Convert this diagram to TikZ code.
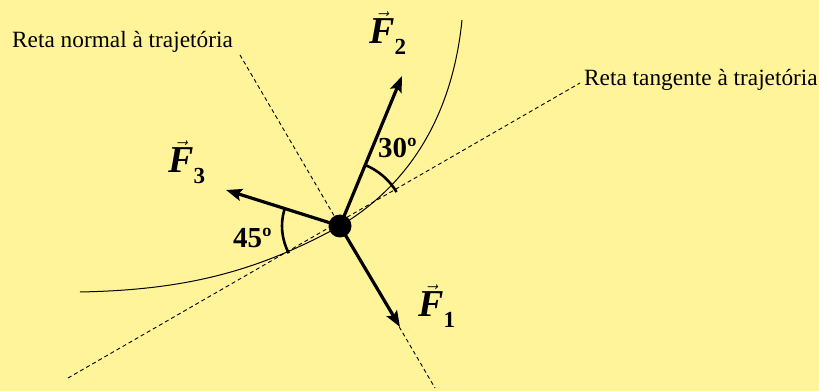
\documentclass[tikz,border=0pt]{standalone}
\usepackage{amsmath}
\usepackage{fontspec}
\setmainfont{Liberation Serif}
\usetikzlibrary{arrows.meta}
\definecolor{paper}{RGB}{255, 244, 153}
\definecolor{ink}{RGB}{0, 0, 0}
\newcommand{\forcelabel}[1]{$\vec{\text{\bfseries\itshape F}}_{\raisebox{-7pt}{\fontsize{23}{26}\selectfont\bfseries #1}}$}

\begin{document}
\begin{tikzpicture}[x=1pt, y=1pt,
    caption/.style={font=\fontsize{23.3}{28}\selectfont\color{ink}, inner sep=0pt},
    flabel/.style={font=\fontsize{38}{42}\selectfont\bfseries, inner sep=0pt},
    angtxt/.style={font=\fontsize{29}{34}\selectfont\bfseries, inner sep=0pt},
    guide/.style={ink, line width=0.9pt, dash pattern=on 4pt off 3pt},
    force/.style={-{Stealth[length=16pt, width=12pt, inset=3pt]}, line width=3.2pt},
    angarc/.style={line width=2.6pt},
  ]
    \fill[paper] (0,0) rectangle (819,391);
    \useasboundingbox (0,0) rectangle (819,391);

    \coordinate (P) at (340,165);

    % reta tangente e reta normal
    \coordinate (tanA) at (68,13);
    \coordinate (tanB) at (580,308);
    \coordinate (norA) at (240,336);
    \coordinate (norB) at (435,3);
    \draw[guide] (tanA) -- (tanB);
    \draw[guide] (norA) -- (norB);

    % trajetoria
    \draw[line width=1pt] (80,99) .. controls (180,101) and (253,117) .. (P)
      .. controls (427,217) and (455,301) .. (462,371);

    % forcas
    \coordinate (tip1) at (400,64);
    \coordinate (tip2) at (402,315);
    \coordinate (tip3) at (226,201);
    \draw[force] (P) -- (tip1);
    \draw[force] (P) -- (tip2);
    \draw[force] (P) -- (tip3);

    \draw[angarc] ([shift={(31:66)}]P) arc[start angle=31, end angle=68, radius=66];
    \draw[angarc] ([shift={(163:58)}]P) arc[start angle=163, end angle=208, radius=58];

    \fill[ink] (P) circle[radius=11.5];

    \node[caption, anchor=base west] (normal) at (12,343) {Reta normal à trajetória};
    \node[caption, anchor=base west] (tangente) at (584,305) {Reta tangente à trajetória};

    \node[angtxt, anchor=base west] (a30) at (378,233) {30º};
    \node[angtxt, anchor=base west] (a45) at (233,143) {45º};

    \node[flabel] (f1) at (437,85) {\forcelabel{1}};
    \node[flabel] (f2) at (388,358) {\forcelabel{2}};
    \node[flabel] (f3) at (187,229) {\forcelabel{3}};

  \end{tikzpicture}
\end{document}
